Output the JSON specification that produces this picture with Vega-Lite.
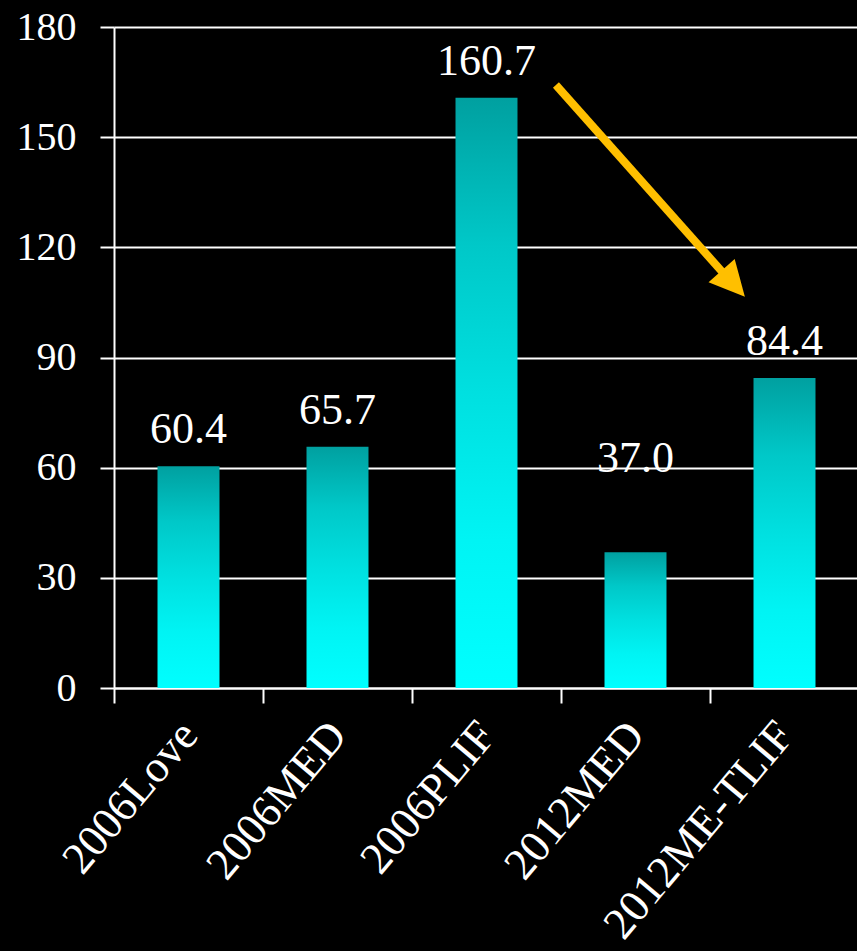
{
  "$schema": "https://vega.github.io/schema/vega-lite/v6.json",
  "width": 745,
  "height": 661,
  "autosize": "none",
  "padding": {"left": 114, "top": 27, "right": 0, "bottom": 263},
  "background": "#000000",
  "config": {
    "view": {"stroke": null},
    "font": "Liberation Serif"
  },
  "datasets": {
    "groups": [
      {"group": "2006Love", "value": 60.4},
      {"group": "2006MED", "value": 65.7},
      {"group": "2006PLIF", "value": 160.7},
      {"group": "2012MED", "value": 37.0},
      {"group": "2012ME-TLIF", "value": 84.4}
    ],
    "trend": [
      {"x": 2.966, "y": 164.2, "x2": 4.1, "y2": 112.5, "hx": 4.156, "hy": 110.1}
    ]
  },
  "layer": [
    {
      "data": {"name": "groups"},
      "encoding": {
        "x": {
          "field": "group",
          "type": "nominal",
          "sort": null,
          "scale": {"paddingInner": 0.584, "paddingOuter": 0.292},
          "axis": {
            "title": null,
            "domainColor": "#ffffff",
            "domainWidth": 2,
            "tickColor": "#ffffff",
            "tickWidth": 2,
            "tickSize": 15,
            "tickOffset": -74.5,
            "labelOffset": 74.5,
            "labelAngle": -50,
            "labelAlign": "right",
            "labelBaseline": "middle",
            "labelPadding": 24,
            "labelLimit": 0,
            "labelFont": "Liberation Serif",
            "labelFontSize": 45,
            "labelColor": "#ffffff",
            "labelOverlap": false
          }
        },
        "y": {
          "field": "value",
          "type": "quantitative",
          "title": null,
          "scale": {"domain": [0, 180], "nice": false},
          "axis": {
            "values": [0, 30, 60, 90, 120, 150, 180],
            "grid": true,
            "gridColor": "#ffffff",
            "gridWidth": 2,
            "gridOpacity": 1,
            "domainColor": "#ffffff",
            "domainWidth": 2,
            "tickColor": "#ffffff",
            "tickWidth": 2,
            "tickSize": 14,
            "labelPadding": 24,
            "labelFont": "Liberation Serif",
            "labelFontSize": 40,
            "labelColor": "#ffffff",
            "labelFlush": false,
            "labelOverlap": false
          }
        }
      },
      "layer": [
        {
          "mark": {
            "type": "bar",
            "color": {
              "gradient": "linear",
              "x1": 0, "y1": 0, "x2": 0, "y2": 1,
              "stops": [
                {"offset": 0, "color": "#00A0A0"},
                {"offset": 0.25, "color": "#00C8C8"},
                {"offset": 0.5, "color": "#00E0E0"},
                {"offset": 0.75, "color": "#00F4F4"},
                {"offset": 1, "color": "#00FFFF"}
              ]
            }
          }
        },
        {
          "transform": [{"filter": "datum.group !== '2012MED'"}],
          "mark": {
            "type": "text",
            "font": "Liberation Serif",
            "fontSize": 44,
            "color": "#ffffff",
            "align": "center",
            "baseline": "alphabetic",
            "dy": -23
          },
          "encoding": {"text": {"field": "value", "type": "quantitative", "format": ".1f"}}
        },
        {
          "transform": [{"filter": "datum.group === '2012MED'"}],
          "mark": {
            "type": "text",
            "font": "Liberation Serif",
            "fontSize": 44,
            "color": "#ffffff",
            "align": "center",
            "baseline": "alphabetic",
            "dy": -80
          },
          "encoding": {"text": {"field": "value", "type": "quantitative", "format": ".1f"}}
        }
      ]
    },
    {
      "data": {"name": "trend"},
      "layer": [
        {
          "mark": {"type": "rule", "color": "#FFBF00", "strokeWidth": 8, "strokeCap": "butt"},
          "encoding": {
            "x": {"field": "x", "type": "quantitative", "scale": {"domain": [0, 5], "nice": false, "zero": false}, "axis": null},
            "y": {"field": "y", "type": "quantitative", "title": null},
            "x2": {"field": "x2"},
            "y2": {"field": "y2"}
          }
        },
        {
          "mark": {
            "type": "point",
            "shape": "M0,-1L1,1L-1,1Z",
            "filled": true,
            "color": "#FFBF00",
            "opacity": 1,
            "size": 1225,
            "angle": 138.3
          },
          "encoding": {
            "x": {"field": "hx", "type": "quantitative", "scale": {"domain": [0, 5], "nice": false, "zero": false}, "axis": null},
            "y": {"field": "hy", "type": "quantitative", "title": null}
          }
        }
      ]
    }
  ],
  "resolve": {"scale": {"x": "independent"}}
}
